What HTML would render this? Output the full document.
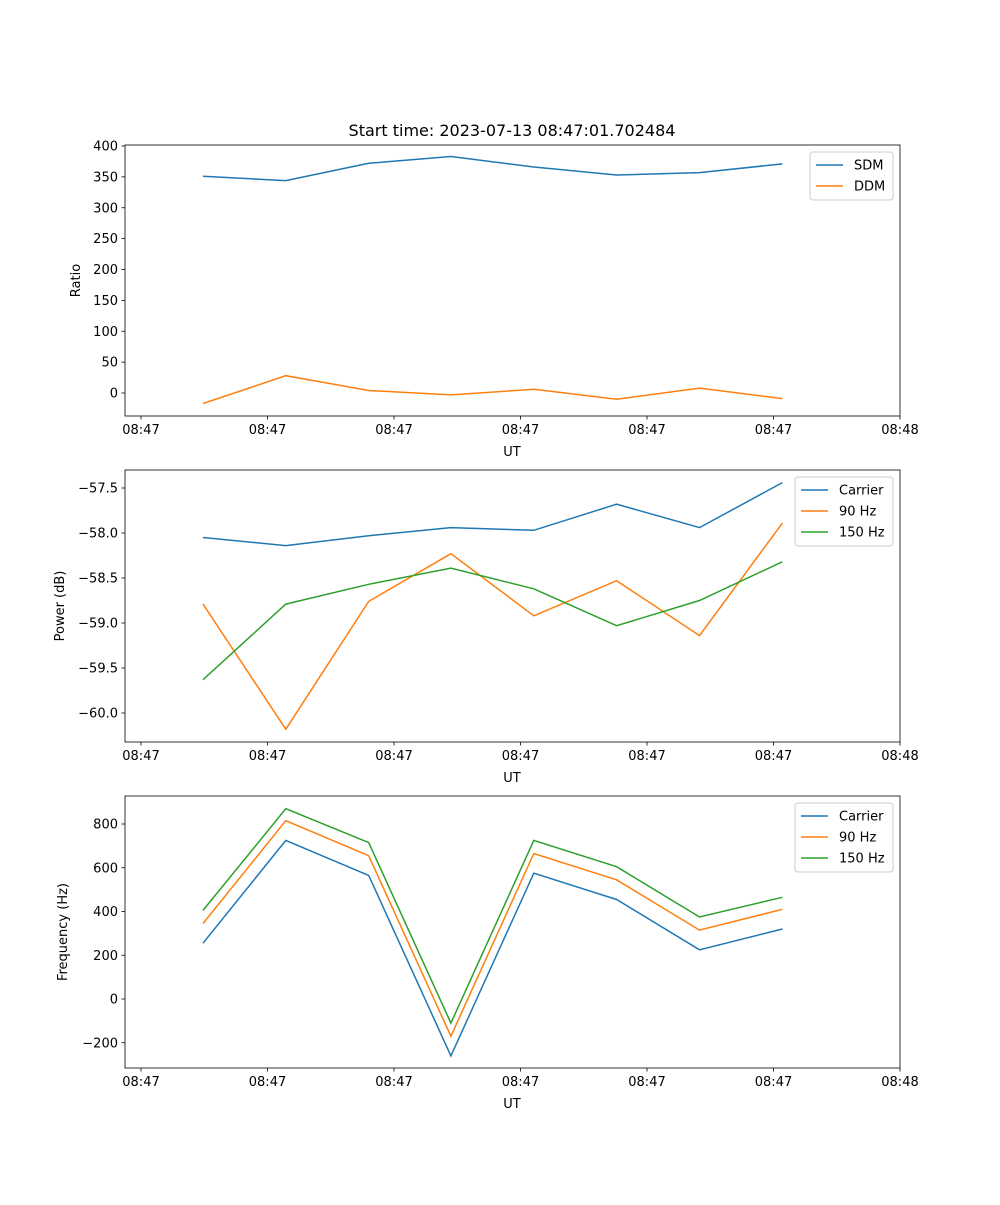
<!DOCTYPE html>
<html><head><meta charset="utf-8"><style>
body{margin:0;background:#fff}
svg text{font-family:"DejaVu Sans","Liberation Sans",sans-serif;fill:#000}
</style></head><body>
<svg id="fig" width="1000" height="1200" xmlns="http://www.w3.org/2000/svg">
<rect width="1000" height="1200" fill="#fff"/>
<text x="512" y="136" font-size="16" text-anchor="middle">Start time: 2023-07-13 08:47:01.702484</text>
</svg>
<script>
const timesSec = [4.9, 11.45, 18.0, 24.5, 31.05, 37.6, 44.15, 50.7];
const xTickSec = [0, 10, 20, 30, 40, 50, 60];
const xTickLabels = ["08:47","08:47","08:47","08:47","08:47","08:47","08:48"];
const sdm = [351, 344, 372, 383, 366, 353, 357, 371];
const ddm = [-17, 28, 4, -3, 6, -10, 8, -9];
const powCarrier = [-58.05, -58.14, -58.03, -57.94, -57.97, -57.68, -57.94, -57.44];
const pow90 = [-58.79, -60.18, -58.76, -58.23, -58.92, -58.53, -59.14, -57.89];
const pow150 = [-59.63, -58.79, -58.57, -58.39, -58.62, -59.03, -58.75, -58.32];
const freqCarrier = [255, 725, 565, -260, 575, 455, 225, 320];
const freq90 = [345, 815, 655, -170, 665, 545, 315, 410];
const freq150 = [405, 870, 715, -110, 725, 605, 375, 465];
const ratioTicks = [0, 50, 100, 150, 200, 250, 300, 350, 400];
const powTicks = [-60.0, -59.5, -59.0, -58.5, -58.0, -57.5];
const freqTicks = [-200, 0, 200, 400, 600, 800];

const NS = "http://www.w3.org/2000/svg";
const svg = document.getElementById("fig");
function mk(tag, attrs, parent){const e=document.createElementNS(NS,tag);for(const k in attrs)e.setAttribute(k,attrs[k]);(parent||svg).appendChild(e);return e;}
const X0=125,X1=900;
function xs(t){return 141 + t*(900-141)/60;}

function panel(opt){
  const g=mk("g",{});
  
  
  const ys=v=>opt.pA+(v-opt.vA)*(opt.pB-opt.pA)/(opt.vB-opt.vA);
  opt.series.forEach(s=>{
    const pts=s.vals.map((v,i)=>xs(timesSec[i]).toFixed(1)+","+ys(v).toFixed(1)).join(" ");
    const pl=mk("polyline",{points:pts,fill:"none",stroke:s.color,"stroke-width":1.5},g);
    
    
  });
  const fr=mk("rect",{x:X0,y:opt.top,width:X1-X0,height:opt.bot-opt.top,fill:"none",stroke:"#000","stroke-width":0.8},g);
  
  
  xTickSec.forEach((t,i)=>{
    const x=xs(t);
    mk("line",{x1:x,x2:x,y1:opt.bot,y2:opt.bot+3.5,stroke:"#000","stroke-width":0.8},g);
    const tx=mk("text",{x:x,y:opt.bot+18,"font-size":13,"text-anchor":"middle"},g);
    tx.textContent=xTickLabels[i];
    
    
  });
  const xl=mk("text",{x:512,y:opt.bot+40,"font-size":13,"text-anchor":"middle"},g);
  xl.textContent="UT";
  
  
  opt.ticks.forEach(v=>{
    const y=ys(v);
    mk("line",{x1:X0-3.5,x2:X0,y1:y,y2:y,stroke:"#000","stroke-width":0.8},g);
    const tx=mk("text",{x:X0-7,y:y+4.5,"font-size":13,"text-anchor":"end"},g);
    tx.textContent=opt.fmt(v);
    
    
  });
  const cy=(opt.top+opt.bot)/2;
  const yl=mk("text",{x:opt.ylx,y:cy,"font-size":13,"text-anchor":"middle",transform:`rotate(-90 ${opt.ylx} ${cy})`},g);
  yl.textContent=opt.ylabel;
  
  
  const L=opt.legend;
  const lg=mk("g",{},g);
  
  
  mk("rect",{x:L.x,y:L.y,width:L.w,height:opt.series.length*21+6,fill:"#fff",stroke:"#ccc",rx:3},lg);
  opt.series.forEach((s,i)=>{
    const y=L.y+13+i*21;
    mk("line",{x1:L.x+6,x2:L.x+33,y1:y,y2:y,stroke:s.color,"stroke-width":1.5},lg);
    const tx=mk("text",{x:L.x+44,y:y+4.5,"font-size":13},lg);
    tx.textContent=s.label;
    
    
  });
}
const BLUE="#1f77b4",ORANGE="#ff7f0e",GREEN="#2ca02c";
panel({name:"ratio-panel",top:145,bot:416,vA:0,pA:393,vB:400,pB:146,ticks:ratioTicks,fmt:v=>String(v),ylabel:"Ratio",ylx:80,
  series:[{id:"sdm",label:"SDM",vals:sdm,color:BLUE},{id:"ddm",label:"DDM",vals:ddm,color:ORANGE}],
  legend:{x:810,y:152,w:83}});
panel({name:"power-panel",top:470,bot:742,vA:-57.5,pA:488,vB:-60,pB:713,ticks:powTicks,fmt:v=>"\u2212"+Math.abs(v).toFixed(1),ylabel:"Power (dB)",ylx:64,
  series:[{id:"carrier",label:"Carrier",vals:powCarrier,color:BLUE},{id:"90hz",label:"90 Hz",vals:pow90,color:ORANGE},{id:"150hz",label:"150 Hz",vals:pow150,color:GREEN}],
  legend:{x:795,y:477,w:98}});
panel({name:"frequency-panel",top:796,bot:1068,vA:0,pA:999,vB:800,pB:824,ticks:freqTicks,fmt:v=>v<0?"\u2212"+Math.abs(v):String(v),ylabel:"Frequency (Hz)",ylx:67,
  series:[{id:"carrier-f",label:"Carrier",vals:freqCarrier,color:BLUE},{id:"90hz-f",label:"90 Hz",vals:freq90,color:ORANGE},{id:"150hz-f",label:"150 Hz",vals:freq150,color:GREEN}],
  legend:{x:795,y:803,w:98}});
</script>
</body></html>
